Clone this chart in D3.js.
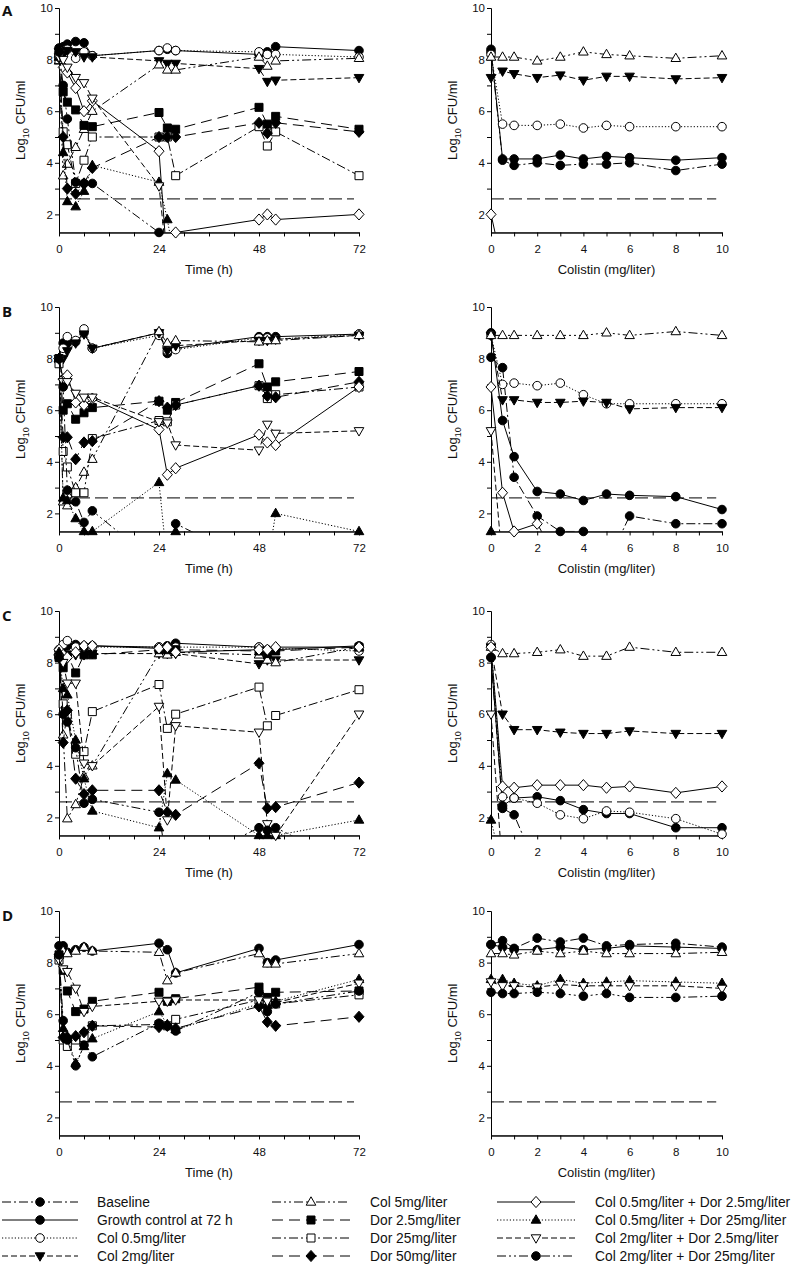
<!DOCTYPE html>
<html><head><meta charset="utf-8">
<script src="https://cdn.jsdelivr.net/npm/d3@7"></script>
<style>body{margin:0;background:#fff} text{font-family:"Liberation Sans",Arial,sans-serif;fill:#111}</style>
</head><body>
<svg id="c" width="800" height="1264"></svg>
<script>
// ---------- DATA ----------
const timePoints = [0,1,2,4,6,8,24,26,28,48,50,52,72];
const colistinDoses = [0,0.5,1,2,3,4,5,6,8,10];
const timeTicks = [0,24,48,72];
const doseTicks = [0,2,4,6,8,10];
const yTicks = [2,4,6,8,10];
const detectionLimit = 2.6;
const panelLetters = ["A","B","C","D"];

const seriesKeys = ["baseline","growth","col05","col2","col5","dor2_5","dor25","dor50","c05d2_5","c05d25","c2d2_5","c2d25"];
const seriesLabels = ["Baseline","Growth control at 72 h","Col 0.5mg/liter","Col 2mg/liter",
  "Col 5mg/liter","Dor 2.5mg/liter","Dor 25mg/liter","Dor 50mg/liter",
  "Col 0.5mg/liter + Dor 2.5mg/liter","Col 0.5mg/liter + Dor 25mg/liter",
  "Col 2mg/liter + Dor 2.5mg/liter","Col 2mg/liter + Dor 25mg/liter"];

// values of 0 = below limit of detection (drawn off-axis, clipped)
const killA = {
  growth:  [8.45,8.5,8.6,8.7,8.65,8.15,8.35,8.4,8.35,8.2,8.3,8.5,8.35],
  col05:   [8.2,8.3,8.4,8.05,8.3,8.15,8.35,8.45,8.35,8.3,8.2,8.2,8.1],
  col2:    [8.3,8.2,8.35,8.3,8.1,8.1,7.95,7.85,7.85,7.65,7.15,7.2,7.3],
  col5:    [7.95,3.5,3.95,4.6,5.3,6.0,7.8,7.6,7.6,8.1,7.75,7.95,8.05],
  dor2_5:  [8.1,6.75,6.35,6.05,5.45,5.4,5.95,5.35,5.3,6.15,5.5,5.8,5.3],
  dor25:   [8.0,5.2,4.7,3.2,4.1,5.0,5.0,5.0,3.5,5.4,4.65,5.2,3.5],
  dor50:   [8.1,5.0,3.0,2.8,3.2,3.8,5.0,5.0,5.0,5.55,5.15,5.55,5.2],
  c05d2_5: [8.1,7.7,7.5,6.9,6.0,6.4,4.45,0,1.3,1.8,2.0,1.8,2.0],
  c05d25:  [8.1,4.4,2.5,2.3,2.9,3.9,3.25,1.8,0,0,0,0,0],
  c2d2_5:  [8.1,8.0,7.7,7.3,7.1,6.5,3.1,0,0,0,0,0,0],
  c2d25:   [8.3,7.0,5.7,3.25,3.2,3.2,1.3,0,0,0,0,0,0]
};
const killB = {
  growth:  [8.0,8.6,8.6,8.65,9.0,8.4,9.0,8.2,8.4,8.85,8.85,8.85,8.95],
  col05:   [7.9,8.4,8.85,8.7,9.15,8.4,8.9,8.3,8.35,8.8,8.8,8.75,8.95],
  col2:    [8.0,8.0,8.3,8.6,8.95,8.4,9.0,8.3,8.5,8.7,8.7,8.75,8.9],
  col5:    [8.0,2.45,2.3,3.0,3.6,4.1,9.05,8.6,8.7,8.65,8.7,8.7,8.9],
  dor2_5:  [8.0,6.0,6.25,5.65,5.9,6.1,6.35,6.0,6.3,7.8,6.9,7.1,7.5],
  dor25:   [7.8,4.4,3.8,2.8,2.8,4.9,5.6,5.55,6.2,6.95,6.45,6.6,6.9],
  dor50:   [8.0,4.95,4.95,4.1,4.75,4.8,6.35,6.1,6.2,6.95,6.55,6.5,7.1],
  c05d2_5: [8.0,7.2,7.35,6.3,6.2,6.45,5.25,3.5,3.75,5.05,4.75,4.65,6.9],
  c05d25:  [8.0,2.6,2.5,1.8,1.3,1.3,3.2,0,1.3,0,0,2.0,1.3],
  c2d2_5:  [8.0,7.1,7.1,6.65,6.5,6.5,5.55,5.5,4.65,4.45,5.45,5.1,5.2],
  c2d25:   [8.0,6.9,2.9,2.45,1.65,2.1,0,0,1.6,0,0,0,0]
};
const killC = {
  growth:  [8.5,8.6,8.65,8.7,8.6,8.65,8.6,8.65,8.75,8.6,8.45,8.5,8.65],
  col05:   [8.5,8.7,8.85,8.6,8.65,8.6,8.6,8.55,8.6,8.6,8.5,8.55,8.45],
  col2:    [8.2,7.9,8.3,8.3,8.3,8.35,8.35,8.35,8.35,7.95,8.1,8.1,8.1],
  col5:    [8.4,5.2,1.95,2.5,3.6,4.0,8.35,8.3,8.4,8.3,8.1,8.0,8.6],
  dor2_5:  [8.2,7.8,8.3,7.6,8.3,8.3,8.5,8.5,8.5,8.45,8.35,8.45,8.6],
  dor25:   [8.3,6.4,6.0,4.45,4.55,6.1,7.15,5.45,6.0,7.05,5.55,5.95,6.95],
  dor50:   [8.3,4.9,6.15,3.5,2.9,3.05,3.05,2.2,2.1,4.1,2.35,2.4,3.35],
  c05d2_5: [8.5,8.3,8.2,8.4,8.65,8.65,8.55,8.6,8.4,8.5,8.5,8.6,8.6],
  c05d25:  [8.4,7.0,6.75,5.0,3.5,2.25,1.6,3.7,3.45,1.3,1.3,1.3,1.9],
  c2d2_5:  [8.2,8.0,7.2,7.2,4.1,4.0,6.3,1.9,5.55,5.3,1.75,1.3,6.0],
  c2d25:   [8.2,6.0,5.7,4.7,2.55,2.7,2.2,0,0,1.6,1.5,1.6,0]
};
const killD = {
  growth:  [8.65,8.65,8.4,8.5,8.6,8.45,8.75,8.5,7.6,8.55,8.0,8.1,8.7],
  col5:    [8.3,8.45,8.35,8.45,8.6,8.45,8.4,7.3,7.6,8.35,7.95,7.95,8.35],
  dor2_5:  [8.3,7.7,6.9,6.1,6.2,6.5,6.85,6.5,6.6,7.05,6.65,6.85,6.9],
  dor25:   [8.1,5.0,4.75,5.0,5.1,5.55,5.6,5.55,5.8,6.55,6.5,6.4,6.75],
  dor50:   [8.3,5.1,5.1,5.15,5.3,5.55,5.5,5.55,5.45,6.3,5.7,5.55,5.9],
  c05d25:  [8.3,5.45,5.1,4.1,4.75,5.05,6.1,5.6,5.4,6.4,6.35,6.5,7.35],
  c2d2_5:  [8.1,7.75,7.65,7.0,6.1,6.3,6.5,6.5,6.55,6.55,6.5,6.45,7.2],
  c2d25:   [8.3,5.75,5.0,4.0,4.8,4.35,5.65,5.55,5.35,6.85,6.1,6.4,6.9]
};
const papA = {
  baseline: [8.3,4.1,3.9,4.0,3.9,3.95,3.95,4.0,3.7,3.95],
  growth:   [8.4,4.15,4.15,4.15,4.3,4.15,4.25,4.2,4.1,4.2],
  col05:    [8.2,5.5,5.45,5.45,5.5,5.35,5.45,5.4,5.4,5.4],
  col2:     [7.3,7.55,7.45,7.3,7.4,7.2,7.35,7.35,7.25,7.3],
  col5:     [8.1,8.1,8.1,7.95,8.1,8.3,8.2,8.15,8.05,8.15],
  c05d2_5:  [2.0,0]
};
const papB = {
  baseline: [8.05,7.65,3.4,1.9,1.3,1.3,0,1.9,1.6,1.6],
  growth:   [9.0,5.6,4.2,2.85,2.75,2.5,2.75,2.7,2.65,2.15],
  col05:    [8.9,7.0,7.05,6.95,7.05,6.6,6.25,6.25,6.25,6.25],
  col2:     [8.9,6.4,6.4,6.3,6.3,6.35,6.3,6.05,6.1,6.1],
  col5:     [8.9,8.9,8.9,8.9,8.9,8.9,9.0,8.9,9.05,8.9],
  c05d2_5:  [6.9,2.8,1.3,1.6,0],
  c05d25:   [1.3,0],
  c2d2_5:   [5.2,0]
};
const papC = {
  baseline: [8.2,2.35,2.1,0],
  growth:   [8.2,2.45,2.75,2.8,2.65,2.3,2.15,2.15,1.6,1.6],
  col05:    [8.7,2.8,2.75,2.55,2.1,1.95,2.25,2.2,1.95,1.35],
  col2:     [8.6,6.0,5.4,5.4,5.3,5.25,5.25,5.35,5.25,5.25],
  col5:     [8.6,8.35,8.35,8.4,8.5,8.25,8.25,8.6,8.4,8.4],
  c05d2_5:  [8.6,3.2,3.15,3.25,3.25,3.25,3.15,3.2,2.95,3.2],
  c05d25:   [1.9,0],
  c2d2_5:   [6.0,0]
};
const papD = {
  baseline: [8.7,8.85,8.55,8.95,8.8,8.95,8.65,8.7,8.75,8.6],
  growth:   [8.7,8.6,8.5,8.5,8.6,8.5,8.55,8.65,8.6,8.55],
  col5:     [8.35,8.35,8.3,8.45,8.35,8.45,8.35,8.35,8.35,8.4],
  c05d25:   [7.35,7.35,7.2,7.1,7.35,7.2,7.25,7.3,7.25,7.2],
  c2d2_5:   [7.25,7.1,7.1,7.05,7.15,7.1,7.1,7.1,7.1,7.0],
  c2d25:    [6.85,6.8,6.8,6.85,6.8,6.7,6.8,6.65,6.65,6.7]
};
const killPanels = [killA, killB, killC, killD];
const papPanels = [papA, papB, papC, papD];

// ---------- STYLES ----------
const DASHDOT = "9,3,2,3", DASHDOTDOT = "9,3,2,3,2,3", DOT = "1.2,2", DASH = "6,3", LONG = "11,6";
const styles = {
  baseline: {m:"circle", f:"#000", d:DASHDOT},
  growth:   {m:"circle", f:"#000", d:null},
  col05:    {m:"circle", f:"#fff", d:DOT},
  col2:     {m:"tridown", f:"#000", d:DASH},
  col5:     {m:"triup", f:"#fff", d:DASHDOTDOT},
  dor2_5:   {m:"square", f:"#000", d:LONG},
  dor25:    {m:"square", f:"#fff", d:DASHDOT},
  dor50:    {m:"diamond", f:"#000", d:LONG},
  c05d2_5:  {m:"diamond", f:"#fff", d:null},
  c05d25:   {m:"triup", f:"#000", d:DOT},
  c2d2_5:   {m:"tridown", f:"#fff", d:DASH},
  c2d25:    {m:"circle", f:"#000", d:DASHDOTDOT}
};
function markerPath(t){
  switch(t){
    case "circle": return "M-4.3,0a4.3,4.3 0 1,0 8.6,0a4.3,4.3 0 1,0 -8.6,0Z";
    case "square": return "M-4,-4H4V4H-4Z";
    case "triup": return "M0,-5.2L4.8,3.2L-4.8,3.2Z";
    case "tridown": return "M0,5.2L4.8,-3.2L-4.8,-3.2Z";
    case "diamond": return "M0,-5.6L5,0L0,5.6L-5,0Z";
  }
}

// ---------- LAYOUT ----------
const svg = d3.select("#c");
const rowTops = [8, 307, 611, 911];
const unitPx = 25.8;
const yMin = 1.3, yMax = 10;
const leftX = [59, 359], rightX = [491, 722];

let clipId = 0;
function drawPanel(g, xScale, yScale, xVals, data, xTickMajor, xTickMinor, xTitle, yTitleX, lodEnd){
  const bottom = yScale(yMin), top = yScale(yMax);
  const id = "clip" + (clipId++);
  svg.append("clipPath").attr("id", id).append("rect")
    .attr("x", xScale.range()[0]).attr("y", top - 20)
    .attr("width", xScale.range()[1] - xScale.range()[0] + 10).attr("height", bottom - top + 20);

  g.append("line").attr("x1", xScale(0)).attr("x2", xScale(lodEnd))
    .attr("y1", yScale(detectionLimit)).attr("y2", yScale(detectionLimit))
    .attr("stroke", "#000").attr("stroke-width", 1).attr("stroke-dasharray", "13,5");

  const yAx = g.append("g").attr("transform", `translate(${xScale.range()[0]},0)`);
  yAx.call(d3.axisLeft(yScale).tickValues(yTicks).tickSize(4).tickPadding(2).tickSizeOuter(0));
  yAx.append("g").call(d3.axisLeft(yScale).tickValues([3,5,7,9]).tickSize(4).tickFormat("").tickSizeOuter(0));
  const xAx = g.append("g").attr("transform", `translate(0,${bottom})`);
  xAx.call(d3.axisBottom(xScale).tickValues(xTickMajor).tickSize(4).tickPadding(8).tickSizeOuter(0));
  xAx.append("g").call(d3.axisBottom(xScale).tickValues(xTickMinor).tickSize(4).tickFormat("").tickSizeOuter(0));
  g.selectAll(".domain").attr("stroke", "#000");
  g.selectAll(".tick line").attr("stroke", "#000");
  g.selectAll(".tick text").style("font-size", "11.5px").style("font-family", '"Liberation Sans",Arial,sans-serif').attr("fill", "#111");

  g.append("text").attr("x", (xScale.range()[0] + xScale.range()[1]) / 2).attr("y", bottom + 42)
    .attr("text-anchor", "middle").style("font-size", "13px").text(xTitle);
  const yt = g.append("text").attr("transform", `translate(${yTitleX},${(top + bottom) / 2}) rotate(-90)`)
    .attr("text-anchor", "middle").style("font-size", "13px");
  yt.append("tspan").text("Log");
  yt.append("tspan").attr("dy", 4).style("font-size", "9px").text("10");
  yt.append("tspan").attr("dy", -4).text(" CFU/ml");

  const line = d3.line().x((d) => xScale(d[0])).y((d) => yScale(d[1]));
  seriesKeys.forEach((k) => {
    if (!data[k]) return;
    const st = styles[k];
    const pts = data[k].map((v, i) => [xVals[i], v]);
    g.append("path").attr("d", line(pts)).attr("fill", "none").attr("stroke", "#000")
      .attr("stroke-width", 1).attr("stroke-dasharray", st.d).attr("clip-path", `url(#${id})`);
    g.selectAll(null).data(pts.filter((p) => p[1] >= 1.25)).enter().append("path")
      .attr("d", markerPath(st.m))
      .attr("transform", (p) => `translate(${xScale(p[0])},${yScale(p[1])})`)
      .attr("fill", st.f).attr("stroke", "#000").attr("stroke-width", 1);
  });
}

const minorTime = d3.range(0, 73, 6).filter((t) => t % 24 !== 0);
const minorDose = [1,3,5,7,9];

rowTops.forEach((top, r) => {
  const yScale = d3.scaleLinear().domain([yMin, yMax]).range([top + (yMax - yMin) * unitPx, top]);
  const xl = d3.scaleLinear().domain([0, 72]).range(leftX);
  const xr = d3.scaleLinear().domain([0, 10]).range(rightX);
  drawPanel(svg.append("g"), xl, yScale, timePoints, killPanels[r], timeTicks, minorTime, "Time (h)", 25, 70.8);
  drawPanel(svg.append("g"), xr, yScale, colistinDoses, papPanels[r], doseTicks, minorDose, "Colistin (mg/liter)", 457, 9.75);
  svg.append("text").attr("x", 2).attr("y", top + 8 + (r === 0 ? 0 : 2))
    .style("font-family", '"Open Sans","Liberation Sans",Arial,sans-serif')
    .style("font-weight", "bold").style("font-size", "15px").text(panelLetters[r]);
});

// ---------- LEGEND ----------
const legCols = [{x0: 2, x1: 78, mx: 40, tx: 97}, {x0: 272, x1: 350, mx: 311, tx: 370}, {x0: 497, x1: 575, mx: 536, tx: 595}];
const legRows = [1202, 1220, 1238, 1256];
seriesKeys.forEach((k, i) => {
  const c = legCols[Math.floor(i / 4)], y = legRows[i % 4], st = styles[k];
  const lg = svg.append("g");
  lg.append("line").attr("x1", c.x0).attr("x2", c.x1).attr("y1", y).attr("y2", y)
    .attr("stroke", "#000").attr("stroke-width", 1).attr("stroke-dasharray", st.d);
  lg.append("path").attr("d", markerPath(st.m)).attr("transform", `translate(${c.mx},${y})`)
    .attr("fill", st.f).attr("stroke", "#000");
  lg.append("text").attr("x", c.tx).attr("y", y + 5).style("font-size", "13.8px").text(seriesLabels[i]);
});
</script>
</body></html>
